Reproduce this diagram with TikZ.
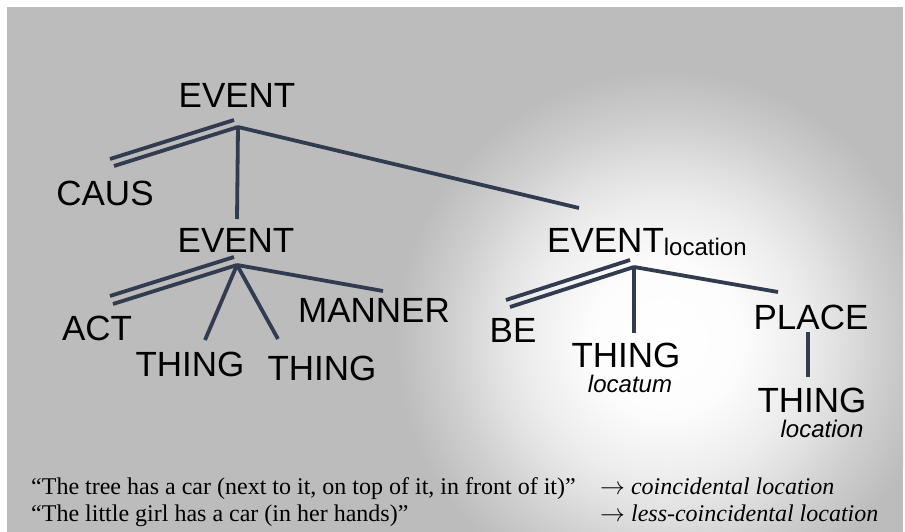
\documentclass[tikz,border=0pt]{standalone}
\usepackage{fontspec}
\setmainfont{Liberation Serif}
\newfontfamily\treefont{Liberation Sans}

\definecolor{bggray}{RGB}{188,188,188}
\definecolor{branchcol}{RGB}{50,60,78}

% soft white spot behind the location subtree (25bp = path radius)
\pgfdeclareradialshading{glow}{\pgfpoint{0bp}{0bp}}{%
  color(0bp)=(white); color(7bp)=(white!96!bggray);
  color(13bp)=(white!72!bggray); color(16bp)=(white!55!bggray);
  color(20bp)=(white!28!bggray); color(25bp)=(bggray); color(50bp)=(bggray)}

\begin{document}
\begin{tikzpicture}[
	x=1pt, y=-1pt,
	cat/.style={ font=\treefont\fontsize{35}{40}\selectfont, inner sep=0pt, anchor=base },
	role/.style={ font=\treefont\itshape\fontsize{24}{28}\selectfont, inner sep=0pt, anchor=base },
	gloss/.style={ font=\fontsize{24}{28}\selectfont, inner sep=0pt, anchor=base west },
	branch/.style={ draw=branchcol, line width=3.8pt }
]

% background
\fill[white] (0,0) rectangle (905,532);
\fill[bggray] (7,7) rectangle (903,532);
\begin{scope}
\clip (7,7) rectangle (903,532);
\shade[shading=glow] (665,340) circle (270);
\end{scope}

% categories
\node at (237,108) (event) [cat] {EVENT};
\node at (105,205) (caus) [cat] {CAUS};
\node at (236,252) (event-act) [cat] {EVENT};
\node at (97,340) (act) [cat] {ACT};
\node at (190,376) (thing-a) [cat] {THING};
\node at (322,380) (thing-b) [cat] {THING};
\node at (374,322) (manner) [cat] {MANNER};
\node at (547,252) (event-loc) [cat,anchor=base west] {EVENT\raisebox{-3pt}{\fontsize{24}{28}\selectfont location}};
\node at (513,342) (be) [cat] {BE};
\node at (626,367) (thing-c) [cat] {THING};
\node at (630,392) (locatum) [role] {locatum};
\node at (811,329) (place) [cat] {PLACE};
\node at (812,412) (thing-d) [cat] {THING};
\node at (822,437) (location) [role] {location};

% top event
\coordinate (event-j) at (238,127);
\coordinate (caus-end) at (114,166);
\coordinate (event-act-end) at (237,219);
\coordinate (event-loc-end) at (579,208);
\draw[branch] (event-j) -- (caus-end);
\draw[branch] ([shift={(-4,-7)}]event-j) -- ([shift={(-4,-7)}]caus-end);
\foreach \p in {event-act-end,event-loc-end} \draw[branch] (event-j) to (\p);

% act event
\coordinate (act-j) at (237,265);
\coordinate (act-end) at (113,304);
\coordinate (thing-a-end) at (205,340);
\coordinate (thing-b-end) at (278,339);
\coordinate (manner-end) at (383,291);
\draw[branch] (act-j) -- (act-end);
\draw[branch] ([shift={(-3,-8)}]act-j) -- ([shift={(-3,-8)}]act-end);
\foreach \p in {thing-a-end,thing-b-end,manner-end} \draw[branch] (act-j) to (\p);

% location event
\coordinate (loc-j) at (634,267);
\coordinate (be-end) at (510,307);
\coordinate (thing-c-end) at (634,333);
\coordinate (place-end) at (778,292);
\draw[branch] (loc-j) -- (be-end);
\draw[branch] ([shift={(-4,-7)}]loc-j) -- ([shift={(-4,-7)}]be-end);
\foreach \p in {thing-c-end,place-end} \draw[branch] (loc-j) to (\p);

\coordinate (place-j) at (808,332);
\coordinate (thing-d-end) at (808,377);
\draw[branch] (place-j) -- (thing-d-end);

% examples
\node at (31,494) (ex-tree) [gloss] {“The tree has a car (next to it, on top of it, in front of it)”};
\node at (31,521) (ex-girl) [gloss] {“The little girl has a car (in her hands)”};
\node at (600,494) (res-tree) [gloss] {$\rightarrow$ \textit{coincidental location}};
\node at (600,521) (res-girl) [gloss] {$\rightarrow$ \textit{less-coincidental location}};

\end{tikzpicture}
\end{document}
